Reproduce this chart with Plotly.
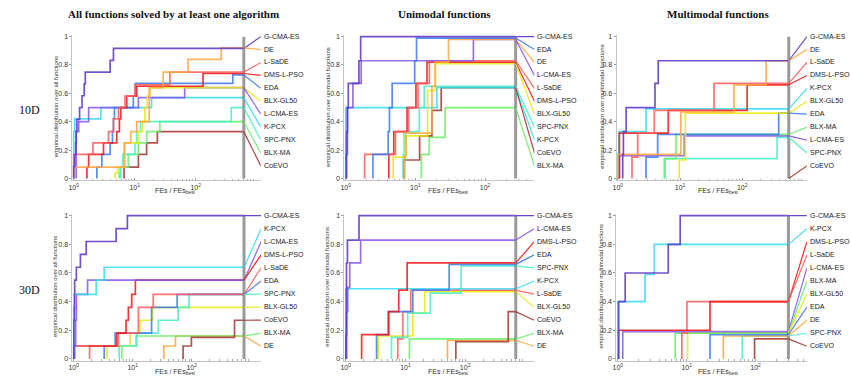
import plotly.graph_objects as go

W, H = 851, 379

# ---------------- data ----------------
colors = {
    "G-CMA-ES": "#5b32c4", "L-CMA-ES": "#8655ea", "DE": "#ffa53c",
    "L-SaDE": "#ff5a5a", "DMS-L-PSO": "#f01414", "EDA": "#3d79f2",
    "BLX-GL50": "#e8e810", "K-PCX": "#33dcf5", "SPC-PNX": "#45f0c5",
    "BLX-MA": "#66ee66", "CoEVO": "#a33333",
}

# 10D, all functions
all10_order = ["G-CMA-ES", "DE", "L-SaDE", "DMS-L-PSO", "EDA", "BLX-GL50",
               "L-CMA-ES", "K-PCX", "SPC-PNX", "BLX-MA", "CoEVO"]
all10_budget = 615
all10_x = {
    "G-CMA-ES": [1.0, 1.04, 1.08, 1.10, 1.13, 1.25, 1.37, 1.49, 1.55, 3.96, 4.49],
    "L-CMA-ES": [1.10, 1.21, 1.76, 11.5, 66],
    "K-PCX": [1.0, 1.04, 2.79, 18.9],
    "EDA": [2.40, 2.90, 3.96, 4.32, 4.49, 4.66, 9.51, 10.3, 406],
    "L-SaDE": [1.0, 2.07, 3.72, 4.49, 5.42, 6.95, 10.1, 37.7],
    "DMS-L-PSO": [1.65, 1.76, 3.08, 5.09, 5.62, 5.92, 7.41, 10.8, 132],
    "DE": [1.0, 6.70, 8.61, 10.8, 17.3, 29.3, 75.0, 262],
    "BLX-GL50": [4.78, 5.28, 6.95, 11.5, 13.5, 14.7, 16.1, 17.8],
    "SPC-PNX": [5.92, 6.37, 10.1, 10.8, 12.5, 382],
    "BLX-MA": [5.55, 5.77, 7.88, 11.5, 15.7, 25.9],
    "CoEVO": [6.7, 11.5, 15.7, 23.5],
}
all10_y = {
    "G-CMA-ES": [0.083, 0.167, 0.25, 0.333, 0.417, 0.5, 0.583, 0.667, 0.75, 0.833, 0.917],
    "L-CMA-ES": [0.33, 0.40, 0.5, 0.57, 0.64],
    "K-PCX": [0.33, 0.42, 0.5, 0.57],
    "EDA": [0.08, 0.17, 0.25, 0.33, 0.42, 0.5, 0.58, 0.67, 0.73],
    "L-SaDE": [0.17, 0.25, 0.33, 0.42, 0.5, 0.58, 0.66, 0.75],
    "DMS-L-PSO": [0.08, 0.17, 0.25, 0.33, 0.42, 0.5, 0.58, 0.65, 0.74],
    "DE": [0.08, 0.25, 0.33, 0.4, 0.64, 0.75, 0.84, 0.92],
    "BLX-GL50": [0.04, 0.08, 0.25, 0.33, 0.4, 0.5, 0.58, 0.64],
    "SPC-PNX": [0.08, 0.17, 0.25, 0.33, 0.4, 0.5],
    "BLX-MA": [0.04, 0.08, 0.17, 0.25, 0.33, 0.4],
    "CoEVO": [0.08, 0.17, 0.25, 0.33],
}

# 10D, unimodal functions
uni10_order = ["G-CMA-ES", "EDA", "DE", "L-CMA-ES", "L-SaDE", "DMS-L-PSO",
               "BLX-GL50", "SPC-PNX", "K-PCX", "CoEVO", "BLX-MA"]
uni10_budget = 275
uni10_x = {
    "G-CMA-ES": [1.02, 1.03, 1.06, 1.09, 1.55, 1.64],
    "L-CMA-ES": [1.03, 1.06, 1.27, 1.67, 68.1],
    "EDA": [2.46, 4.07, 4.25, 4.64, 9.78, 10.4],
    "DE": [7.04, 7.36, 17.3, 19.3, 29.9],
    "BLX-GL50": [4.80, 7.20, 15.0, 19.3],
    "L-SaDE": [1.87, 5.18, 8.0, 10.9, 15.9],
    "DMS-L-PSO": [4.16, 4.9, 7.6, 10.2, 14.7],
    "K-PCX": [1.0, 20.4],
    "SPC-PNX": [6.66, 6.89, 11.4, 13.4],
    "CoEVO": [6.81, 11.5, 17.3, 23.5],
    "BLX-MA": [12.2, 15.8, 26.8],
}
uni10_y = {
    "G-CMA-ES": [0.17, 0.33, 0.5, 0.67, 0.83, 1.0],
    "L-CMA-ES": [0.17, 0.5, 0.67, 0.83, 0.98],
    "EDA": [0.17, 0.33, 0.5, 0.67, 0.83, 0.99],
    "DE": [0.16, 0.32, 0.65, 0.82, 0.98],
    "BLX-GL50": [0.15, 0.3, 0.62, 0.81],
    "L-SaDE": [0.17, 0.33, 0.5, 0.67, 0.83],
    "DMS-L-PSO": [0.17, 0.33, 0.5, 0.67, 0.82],
    "K-PCX": [0.5, 0.64],
    "SPC-PNX": [0.17, 0.33, 0.5, 0.65],
    "CoEVO": [0.13, 0.3, 0.48, 0.64],
    "BLX-MA": [0.17, 0.29, 0.5],
}

# 10D, multimodal functions
mul10_order = ["G-CMA-ES", "DE", "L-SaDE", "DMS-L-PSO", "K-PCX", "BLX-GL50",
               "EDA", "BLX-MA", "L-CMA-ES", "SPC-PNX", "CoEVO"]
mul10_budget = 560
mul10_x = {
    "G-CMA-ES": [1.20, 1.23, 1.36, 3.96, 4.47],
    "L-CMA-ES": [1.06, 11.7],
    "DE": [1.0, 10.3, 73.6, 242],
    "L-SaDE": [1.69, 2.09, 3.86, 35.2],
    "DMS-L-PSO": [1.06, 6.47, 120],
    "K-PCX": [1.04, 2.84],
    "BLX-GL50": [9.7, 12.2],
    "BLX-MA": [5.58, 8.6],
    "SPC-PNX": [5.79, 363],
    "EDA": [2.84, 4.37, 386],
    "CoEVO": [],
}
mul10_y = {
    "G-CMA-ES": [0.17, 0.33, 0.5, 0.67, 0.83],
    "L-CMA-ES": [0.16, 0.3],
    "DE": [0.17, 0.47, 0.66, 0.83],
    "L-SaDE": [0.15, 0.32, 0.48, 0.67],
    "DMS-L-PSO": [0.32, 0.48, 0.66],
    "K-PCX": [0.33, 0.49],
    "BLX-GL50": [0.13, 0.46],
    "BLX-MA": [0.14, 0.31],
    "SPC-PNX": [0.14, 0.29],
    "EDA": [0.15, 0.31, 0.46],
    "CoEVO": [],
}

# 30D, all functions
all30_order = ["G-CMA-ES", "K-PCX", "L-CMA-ES", "DMS-L-PSO", "L-SaDE", "EDA",
               "SPC-PNX", "BLX-GL50", "CoEVO", "BLX-MA", "DE"]
all30_budget = 770
all30_x = {
    "G-CMA-ES": [1.01, 1.03, 1.04, 1.11, 1.30, 1.63, 5.24, 8.13],
    "L-CMA-ES": [1.04, 1.08, 1.11, 1.72],
    "K-PCX": [1.0, 1.04, 2.41, 3.29],
    "DMS-L-PSO": [1.0, 5.37, 7.72, 8.45, 9.62, 11.1],
    "L-SaDE": [1.86, 5.73, 12.5, 22.3],
    "EDA": [3.29, 5.04, 20.9, 56.6],
    "SPC-PNX": [5.89, 11.7, 27.1, 58.9, 90.2],
    "BLX-GL50": [3.65, 9.02, 13.3, 21.7],
    "BLX-MA": [6.53, 11.4],
    "DE": [33.7, 53.1],
    "CoEVO": [71.4, 98.7, 531],
}
all30_y = {
    "G-CMA-ES": [0.27, 0.45, 0.55, 0.64, 0.73, 0.82, 0.91, 1.0],
    "L-CMA-ES": [0.09, 0.27, 0.45, 0.55],
    "K-PCX": [0.36, 0.45, 0.55, 0.64],
    "DMS-L-PSO": [0.09, 0.18, 0.27, 0.36, 0.45, 0.55],
    "L-SaDE": [0.09, 0.18, 0.36, 0.45],
    "EDA": [0.09, 0.18, 0.36, 0.45],
    "SPC-PNX": [0.09, 0.18, 0.27, 0.36, 0.45],
    "BLX-GL50": [0.09, 0.18, 0.27, 0.36],
    "BLX-MA": [0.09, 0.16],
    "DE": [0.09, 0.16],
    "CoEVO": [0.09, 0.15, 0.27],
}

# 30D, unimodal functions
uni30_order = ["G-CMA-ES", "L-CMA-ES", "DMS-L-PSO", "EDA", "SPC-PNX", "K-PCX",
               "L-SaDE", "BLX-GL50", "CoEVO", "BLX-MA", "DE"]
uni30_budget = 705
uni30_x = {
    "G-CMA-ES": [1.01, 1.03, 1.07, 1.67],
    "L-CMA-ES": [1.04, 1.08, 1.17, 1.78],
    "K-PCX": [1.0],
    "DMS-L-PSO": [1.85, 5.27, 7.74, 10.7],
    "L-SaDE": [7.45, 9.03, 12.3],
    "EDA": [3.29, 5.14, 13.3, 54.1],
    "SPC-PNX": [5.84, 10.9, 26.1, 85.8],
    "BLX-GL50": [3.5, 13.3, 21.0],
    "BLX-MA": [11.7],
    "DE": [50.6],
    "CoEVO": [69.9, 527],
}
uni30_y = {
    "G-CMA-ES": [0.17, 0.67, 0.83, 1.0],
    "L-CMA-ES": [0.33, 0.5, 0.67, 0.83],
    "K-PCX": [0.49],
    "DMS-L-PSO": [0.17, 0.33, 0.48, 0.67],
    "L-SaDE": [0.14, 0.33, 0.48],
    "EDA": [0.17, 0.33, 0.48, 0.66],
    "SPC-PNX": [0.15, 0.32, 0.46, 0.65],
    "BLX-GL50": [0.16, 0.32, 0.47],
    "BLX-MA": [0.14],
    "DE": [0.13],
    "CoEVO": [0.12, 0.33],
}

# 30D, multimodal functions
mul30_order = ["G-CMA-ES", "K-PCX", "DMS-L-PSO", "L-SaDE", "L-CMA-ES", "BLX-MA",
               "BLX-GL50", "EDA", "DE", "SPC-PNX", "CoEVO"]
mul30_budget = 300
mul30_x = {
    "G-CMA-ES": [1.03, 1.28, 5.40, 8.05],
    "K-PCX": [1.0, 2.48, 3.39],
    "DMS-L-PSO": [1.02, 21.8],
    "L-SaDE": [8.51, 10.1],
    "L-CMA-ES": [1.18],
    "BLX-MA": [6.82],
    "BLX-GL50": [10.3],
    "EDA": [21.8],
    "DE": [34.1],
    "SPC-PNX": [64.1],
    "CoEVO": [96.8],
}
mul30_y = {
    "G-CMA-ES": [0.4, 0.6, 0.8, 1.0],
    "K-PCX": [0.4, 0.59, 0.8],
    "DMS-L-PSO": [0.2, 0.4],
    "L-SaDE": [0.18, 0.4],
    "L-CMA-ES": [0.19],
    "BLX-MA": [0.18],
    "BLX-GL50": [0.18],
    "EDA": [0.17],
    "DE": [0.16],
    "SPC-PNX": [0.16],
    "CoEVO": [0.14],
}

col_titles = ["All functions solved by at least one algorithm",
              "Unimodal functions", "Multimodal functions"]
row_titles = ["10D", "30D"]
ylabels = ["empirical distribution over all functions",
           "empirical distribution over unimodal functions",
           "empirical distribution over multimodal functions"]
xtick_vals = [1, 10, 100]
xtick_text = ["10<sup>0</sup>", "10<sup>1</sup>", "10<sup>2</sup>"]
ytick_vals = [0, 0.2, 0.4, 0.6, 0.8, 1]
ytick_text = ["0", "0.2", "0.4", "0.6", "0.8", "1"]

panels_data = [
    (all10_order, all10_x, all10_y, all10_budget),
    (uni10_order, uni10_x, uni10_y, uni10_budget),
    (mul10_order, mul10_x, mul10_y, mul10_budget),
    (all30_order, all30_x, all30_y, all30_budget),
    (uni30_order, uni30_x, uni30_y, uni30_budget),
    (mul30_order, mul30_x, mul30_y, mul30_budget),
]

# ---------------- layout geometry (pixels) ----------------
# px of 10^0, px per decade, right end px, px of y=1, px of y=0
geom = [
    (70.0, 61.3, 258.0, 35.0, 178.3),
    (343.3, 70.0, 533.0, 35.0, 178.3),
    (616.7, 62.5, 806.7, 35.0, 178.3),
    (70.0, 59.3, 258.3, 216.0, 360.7),
    (343.3, 60.0, 532.7, 216.0, 360.7),
    (616.7, 69.2, 806.7, 216.0, 360.7),
]
ylab_x = [52, 325, 600]
xlab_x = [172, 447, 718]
SANS = "Liberation Sans, Arial, sans-serif"
SERIF = "Liberation Serif, Times New Roman, serif"

fig = go.Figure()
layout = dict(width=W, height=H, margin=dict(l=0, r=0, t=0, b=0),
              paper_bgcolor="white", plot_bgcolor="white", showlegend=False)
annotations = []
minor_vals = [k * 10 ** e for e in range(0, 3) for k in range(2, 10)]

for i, (order, xs, ys, budget) in enumerate(panels_data):
    n = i + 1
    sx = "" if n == 1 else str(n)
    px0, dec, xr, y1p, y0p = geom[i]
    lo = -0.02
    hi = (xr - px0) / dec
    unit = y0p - y1p
    ypad = 0.012
    top = y1p - ypad * unit
    bot = y0p + ypad * unit
    layout["xaxis" + sx] = dict(
        type="log", range=[lo, hi],
        domain=[(px0 + lo * dec) / W, xr / W], anchor="y" + sx,
        showline=True, linecolor="#c4c4c4", linewidth=1, showgrid=False,
        zeroline=False, ticks="inside", ticklen=2, tickcolor="#999",
        tickmode="array", tickvals=xtick_vals, ticktext=xtick_text,
        tickfont=dict(size=7, color="#333", family=SANS),
        minor=dict(ticks="inside", ticklen=1.5, tickcolor="#aaa",
                   tickmode="array", tickvals=minor_vals),
    )
    layout["yaxis" + sx] = dict(
        range=[-ypad, 1 + ypad], domain=[1 - bot / H, 1 - top / H],
        anchor="x" + sx, showline=True, linecolor="#c4c4c4", linewidth=1,
        showgrid=False, zeroline=False, ticks="outside", ticklen=2,
        tickcolor="#999", tickmode="array", tickvals=ytick_vals,
        ticktext=ytick_text, tickfont=dict(size=7, color="#333", family=SANS),
    )
    xend = 10 ** hi
    # step curves, drawn bottom label first so top ones end up on top
    for k in range(len(order) - 1, -1, -1):
        name = order[k]
        xv, yv = xs[name], ys[name]
        c = colors[name]
        if xv:
            fig.add_trace(go.Scatter(
                x=[xv[0]] + xv + [budget], y=[0] + yv + [yv[-1]],
                mode="lines", line=dict(color=c, width=1.7, shape="hv"),
                opacity=0.85, xaxis="x" + sx, yaxis="y" + sx, hoverinfo="skip"))
    # budget line
    fig.add_trace(go.Scatter(
        x=[budget, budget], y=[0, 1], mode="lines",
        line=dict(color="rgba(120,120,120,0.75)", width=3),
        xaxis="x" + sx, yaxis="y" + sx, hoverinfo="skip"))
    # connectors + labels
    for k, name in enumerate(order):
        yv = ys[name]
        final = yv[-1] if yv else 0.0
        ly = 1 - k * 0.0912
        fig.add_trace(go.Scatter(
            x=[budget, xend], y=[final, ly], mode="lines",
            line=dict(color=colors[name], width=1.2), opacity=0.9,
            xaxis="x" + sx, yaxis="y" + sx, hoverinfo="skip"))
        annotations.append(dict(
            xref="x" + sx + " domain", yref="y" + sx, x=1, y=ly,
            xanchor="left", yanchor="middle", xshift=1, showarrow=False,
            text=name, font=dict(size=7.1, color="#222", family=SANS)))
    # y-axis title
    annotations.append(dict(
        xref="paper", yref="paper", x=ylab_x[i % 3] / W,
        y=1 - ((y1p + y0p) / 2 - 1) / H, textangle=-90,
        xanchor="center", yanchor="middle", showarrow=False,
        text=ylabels[i % 3], font=dict(size=6, color="#333", family=SANS)))
    # x-axis title
    annotations.append(dict(
        xref="paper", yref="paper", x=xlab_x[i % 3] / W,
        y=1 - (y0p + 13) / H, xanchor="center", yanchor="middle",
        showarrow=False, text="FEs / FEs<sub>best</sub>",
        font=dict(size=7, color="#333", family=SANS)))

col_cx = [170, 443, 717]
for j, t in enumerate(col_titles):
    annotations.append(dict(
        xref="paper", yref="paper", x=col_cx[j] / W, y=1 - 12 / H,
        xanchor="center", yanchor="middle", showarrow=False,
        text="<b>" + t + "</b>", font=dict(size=11, color="#111", family=SERIF)))
row_cy = [109, 291]
for j, t in enumerate(row_titles):
    annotations.append(dict(
        xref="paper", yref="paper", x=26 / W, y=1 - row_cy[j] / H,
        xanchor="center", yanchor="middle", showarrow=False,
        text=t, font=dict(size=12, color="#111", family=SERIF)))

layout["annotations"] = annotations
fig.update_layout(**layout)
fig.write_html("out.html",
               config={"displayModeBar": False, "staticPlot": True},
               post_script="document.body.style.margin='0';"
                           "document.body.style.overflow='hidden';")
